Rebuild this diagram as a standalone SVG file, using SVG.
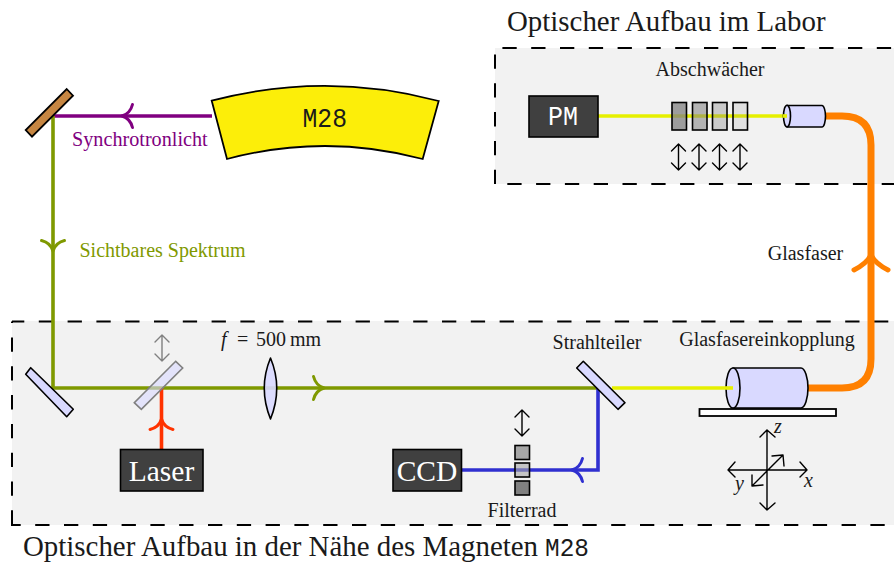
<svg xmlns="http://www.w3.org/2000/svg" width="894" height="563" viewBox="0 0 894 563">
<style>
text{font-family:"Liberation Serif",serif;fill:#1a1a1a}
.mono{font-family:"Liberation Mono",monospace}
.box{fill:#f2f2f2;stroke:none}
.dash{fill:none;stroke:#000;stroke-width:2;stroke-dasharray:14.300 14.500}
.dark{fill:#404040;stroke:#000;stroke-width:1.6}
.lt{fill:#fff;font-size:29.500px;text-anchor:middle}
.opt{fill:#d9d9ff;stroke:#000;stroke-width:1.6;stroke-linejoin:round}
.beam{fill:none;stroke-width:3.6}
.head{fill:none;stroke-width:3;stroke-linecap:round;stroke-linejoin:round}
.thin{fill:none;stroke:#000;stroke-width:1.4;stroke-linecap:round;stroke-linejoin:round}
.filt{stroke:#000;stroke-width:1.6}
.lbl{font-size:20px;text-anchor:middle}
</style>
<defs>
<path id="h" d="M-10.500-11.500C-9-5.500-5-1.500 0 0C-5 1.500-9 5.500-10.500 11.500"/>
<path id="v" d="M0 0V26M-7 7C-4 4-2 2 0 0C2 2 4 4 7 7M-7 19C-4 22-2 24 0 26C2 24 4 22 7 19"/>
</defs>

<rect class="box" x="495" y="48" width="399" height="136"/>
<rect class="box" x="12" y="321" width="882" height="204"/>
<g id="rahmen">
<path class="dash" stroke-dashoffset="21.400" d="M495 48H894"/>
<path class="dash" stroke-dashoffset="22.300" d="M495 48V184"/>
<path class="dash" stroke-dashoffset="16.500" d="M495 184H894"/>
<path class="dash" stroke-dashoffset="2" d="M12 321.500H894"/>
<path class="dash" stroke-dashoffset="12.800" d="M12 321.500V525"/>
<path class="dash" stroke-dashoffset="4.600" d="M11 525H894"/>
</g>

<g id="connectors">
<path class="beam" stroke="#800080" d="M212 116H53"/>
<path class="beam" stroke="#7f9900" d="M53 116V388H598"/>
<path class="beam" stroke="#ff3300" d="M161.500 449V388"/>
<path class="beam" stroke="#3030d0" d="M598 388V470H462"/>
<path class="beam" stroke="#e6f000" d="M612 388H733"/>
<path class="beam" stroke="#e6f000" d="M598 116H787"/>
<path d="M808 388H842Q871 388 871 359V145Q871 116 842 116H825" fill="none" stroke="#ff8000" stroke-width="7"/>
<use href="#h" class="head" stroke="#800080" transform="translate(122 116) rotate(180)"/>
<use href="#h" class="head" stroke="#7f9900" transform="translate(53 251) rotate(90)"/>
<use href="#h" class="head" stroke="#7f9900" transform="translate(324 388)"/>
<use href="#h" class="head" stroke="#ff3300" transform="translate(161.500 419) rotate(-90)"/>
<use href="#h" class="head" stroke="#3030d0" transform="translate(572 470) rotate(180)"/>
<path d="M854 270C862 266 868 261 871 255C874 261 880 266 888 270" fill="none" stroke="#ff8000" stroke-width="5" stroke-linecap="round"/>
</g>

<g id="m28"><path d="M211.700 100.700Q325 71 438.700 101L422.700 159Q325 133 227 159Z" fill="#fcee09" stroke="#000" stroke-width="1.800"/><text class="mono" x="302.500" y="127" font-size="28" textLength="44.500" lengthAdjust="spacingAndGlyphs">M28</text></g>
<g id="mirror-top"><path d="M66.700 89L73 95.700L32 136.700L25.700 130Z" fill="#c68642" stroke="#000" stroke-width="1.800"/></g>
<g id="mirror-bottom"><path class="opt" d="M30.700 367.700L25.700 374.300L66.700 416.700L73.300 409.300Z"/></g>
<g id="splitter-grey"><path d="M175.700 361.300L182.700 368L141.300 409.300L134.300 402.700Z" fill="#d9d9ff" fill-opacity=".6" stroke="#808080" stroke-width="1.600"/><use href="#v" class="thin" style="stroke:#808080" transform="translate(162 335)"/></g>
<g id="laser"><rect class="dark" x="120.500" y="449.500" width="82.500" height="41.500"/><text class="lt" x="161.500" y="481">Laser</text></g>
<g id="lens"><path class="opt" d="M270.500 358Q283 388 270.500 419Q258 388 270.500 358Z" fill-opacity=".9"/></g>
<g id="focal" font-size="20"><text x="221" y="346" font-style="italic">f</text><text x="237" y="346">=</text><text x="256" y="346">500</text><text x="290" y="346">mm</text></g>
<g id="strahlteiler"><path class="opt" d="M583.300 361.300L576.700 368L618 409.300L625 402.700Z"/><text class="lbl" x="597" y="349">Strahlteiler</text></g>
<g id="ccd"><rect class="dark" x="393" y="449.500" width="68.500" height="41.500"/><text class="lt" x="427" y="481">CCD</text></g>
<g id="filterrad">
<rect class="filt" x="515" y="445.500" width="14.500" height="14" fill="#a6a6a6"/>
<rect class="filt" x="515" y="463" width="14.500" height="14" fill="#a6a6a6" fill-opacity=".6"/>
<rect class="filt" x="515" y="481" width="14.500" height="14" fill="#808080"/>
<use href="#v" class="thin" transform="translate(522 410)"/>
<text class="lbl" x="522" y="517">Filterrad</text>
</g>
<g id="einkopplung">
<rect x="699.500" y="409" width="136.500" height="7" fill="#fff" stroke="#000" stroke-width="1.800"/>
<path class="opt" d="M733 368H801C805 368 808 378 808 388C808 398 805 408 801 408H733Z"/>
<ellipse class="opt" cx="733" cy="388" rx="7" ry="20"/>
<path class="beam" stroke="#e6f000" d="M725 388H733"/>
<text class="lbl" x="767" y="346">Glasfasereinkopplung</text>
</g>
<g id="achsen">
<path class="thin" d="M767 430V510M760 437L767 430L775 437M760 503L767 510L775 503M728 470H807M735 462L728 470L735 477M800 462L807 470L800 477M752 486L783 455M772 456L783 455L784 466M752 475L752 486L763 485"/>
<text x="774" y="433" font-size="20" font-style="italic">z</text>
<text x="804" y="487" font-size="20" font-style="italic">x</text>
<text x="735" y="490" font-size="20" font-style="italic">y</text>
</g>
<g id="pm"><rect class="dark" x="529" y="96" width="69" height="41"/><text class="mono" x="548" y="125" font-size="28" textLength="30" lengthAdjust="spacingAndGlyphs" style="fill:#fff">PM</text></g>
<g id="abschwaecher">
<text class="lbl" x="710" y="76">Abschwächer</text>
<rect class="filt" x="672" y="102.500" width="14.500" height="27.500" fill="#808080" fill-opacity=".75"/>
<rect class="filt" x="692.500" y="102.500" width="14.500" height="27.500" fill="#808080" fill-opacity=".55"/>
<rect class="filt" x="712.500" y="102.500" width="14.500" height="27.500" fill="#808080" fill-opacity=".35"/>
<rect class="filt" x="733" y="102.500" width="14.500" height="27.500" fill="#808080" fill-opacity=".15"/>
<use href="#v" class="thin" transform="translate(678.500 144)"/>
<use href="#v" class="thin" transform="translate(699 144)"/>
<use href="#v" class="thin" transform="translate(719.500 144)"/>
<use href="#v" class="thin" transform="translate(740 144)"/>
</g>
<g id="koppler-klein">
<path class="opt" d="M787 105.500H822C824 105.500 825.500 111 825.500 116C825.500 122 824 127 822 127H787Z"/>
<ellipse class="opt" cx="787" cy="116" rx="3.500" ry="10.800"/>
<path class="beam" stroke="#e6f000" d="M783 116H787"/>
</g>
<text x="507" y="31" font-size="28.900">Optischer Aufbau im Labor</text>
<text x="23" y="556" font-size="28.900">Optischer Aufbau in der Nähe des Magneten <tspan class="mono" x="545" font-size="26" textLength="44" lengthAdjust="spacingAndGlyphs">M28</tspan></text>
<text x="72" y="146" font-size="20.200" style="fill:#800080">Synchrotronlicht</text>
<text x="79.500" y="257" font-size="20" style="fill:#7f9900">Sichtbares Spektrum</text>
<text x="805.500" y="260" class="lbl">Glasfaser</text>
</svg>
